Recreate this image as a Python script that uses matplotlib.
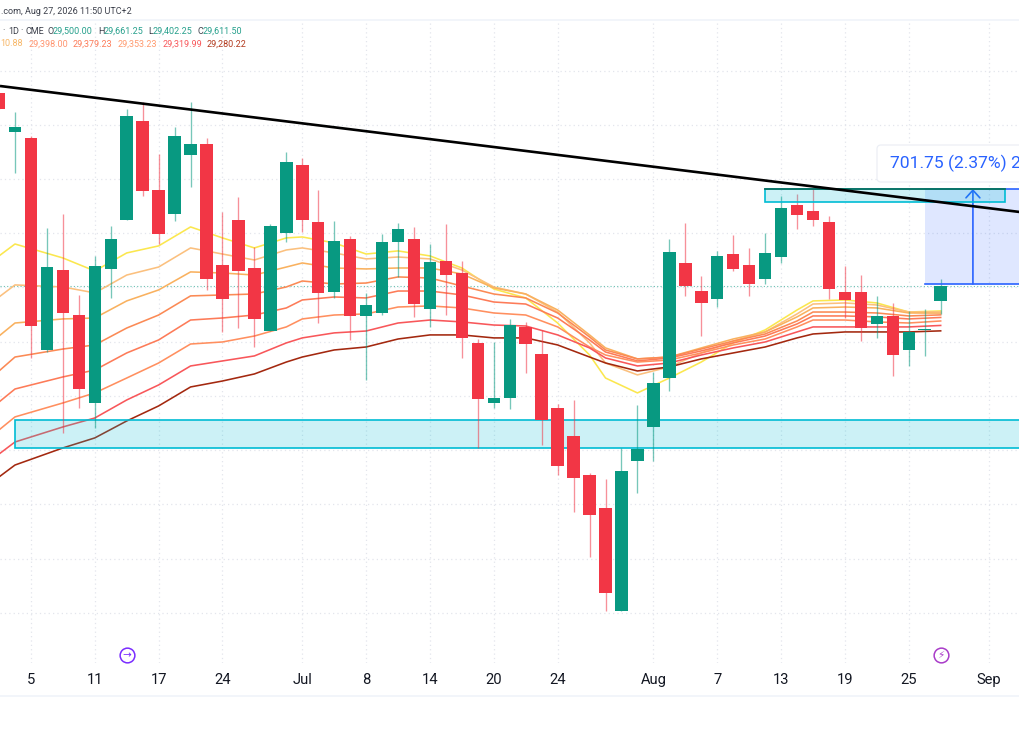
import matplotlib
matplotlib.use("Agg")
import matplotlib.pyplot as plt
from matplotlib.patches import FancyBboxPatch, Rectangle
from matplotlib.transforms import IdentityTransform

plt.rcParams['font.family'] = ['Roboto', 'DejaVu Sans']

W, H = 1020, 741

bar_index = list(range(-2, 58))
opens = [31036,30748,30704,29139,29729,29397,28748,29737,30098,30829,30320,30143,30578,30659,29766,30098,29744,29279,30002,30504,
         30084,29567,29958,29390,29412,29936,29958,29442,29796,29707,29191,28748,28785,29309,29109,28711,28504,28216,27973,27213,
         28320,28571,28932,29781,29574,29515,29847,29766,29663,29825,30209,30165,30084,29567,29567,29331,29390,29139,29287,29500]
highs = [31036,30895,30718,30039,30143,29545,29833,30054,30918,30969,30585,30785,30969,30704,30157,30268,29899,30069,30600,30556,
         30320,30091,29980,29560,29995,30076,30047,29921,30069,29796,29220,29198,29368,29346,29287,28740,28770,28231,28187,28416,
         28733,28977,29958,30076,29685,29870,29988,29892,30002,30276,30290,30342,30128,29759,29692,29538,29486,29427,29442,29661.25]
lows = [30918,30445,29080,29124,28526,28711,28563,29523,30098,30276,29921,30091,30342,29582,29272,29301,29161,29279,29936,30010,
        29338,29523,29213,28918,29397,29678,29383,29309,29397,29080,28416,28711,28704,28969,28438,28216,27943,27611,27213,27213,
        28084,28320,28836,29538,29242,29456,29722,29538,29626,29781,30032,30054,29515,29375,29205,29228,28947,29021,29095,29402.25]
closes = [30918,30785,29316,29752,29412,28851,29759,29958,30866,30312,29995,30718,30659,29663,29515,29722,29368,30054,30526,30098,
          29560,29943,29390,29471,29936,30032,29478,29788,29692,29228,28777,28785,29323,29183,28622,28283,28194,27921,27346,28246,
          28408,28895,29862,29611,29486,29833,29737,29626,29855,30187,30135,30098,29589,29508,29301,29390,29102,29272,29294,29611.5]

ema_index = [-2,-1,2,4,6,8,10,12,14,16,17,19,21,23,25,27,29,31,33,35,36,38,40,42,44,46,48,49,51,53,55,57]
ema1 = [29833,29921,29818,29722,29855,29907,30047,29966,29892,29966,29973,29929,29847,29870,29833,29744,29589,29523,29338,29102,28932,28822,28932,29050,29191,29287,29434,29501,29508,29486,29419,29427]
ema2 = [29530,29619,29604,29560,29692,29751,29892,29847,29803,29877,29892,29855,29811,29825,29811,29729,29604,29552,29419,29191,29043,28955,29014,29117,29205,29272,29405,29478,29486,29471,29419,29420]
ema3 = [29242,29338,29368,29375,29501,29582,29715,29707,29692,29751,29781,29744,29737,29744,29744,29700,29597,29552,29434,29250,29154,29073,29087,29154,29220,29272,29383,29449,29456,29449,29412,29411]
ema4 = [28984,29087,29146,29176,29301,29397,29538,29545,29552,29604,29648,29626,29633,29678,29670,29611,29552,29523,29412,29235,29139,29073,29087,29146,29205,29257,29353,29419,29419,29412,29390,29398]
ema5 = [28755,28851,28940,28991,29117,29213,29360,29375,29397,29449,29508,29530,29523,29574,29574,29545,29493,29478,29375,29213,29124,29058,29080,29132,29191,29242,29331,29390,29390,29383,29368,29379]
ema6 = [28549,28645,28748,28822,28932,29043,29183,29198,29242,29309,29368,29397,29405,29456,29464,29449,29412,29397,29309,29161,29102,29050,29065,29117,29176,29220,29309,29360,29360,29346,29338,29353]
ema7 = [28371,28460,28571,28637,28770,28881,29021,29058,29095,29191,29228,29265,29279,29338,29360,29346,29323,29316,29250,29154,29080,29021,29043,29102,29154,29198,29272,29309,29309,29309,29309,29320]
ema8 = [28202,28290,28416,28490,28615,28726,28866,28910,28962,29050,29087,29139,29161,29220,29250,29250,29228,29228,29176,29087,29043,28984,29014,29073,29117,29161,29228,29257,29272,29272,29272,29280]
ema_series = [ema1, ema2, ema3, ema4, ema5, ema6, ema7, ema8]
ema_colors = ['#fbe74e', '#fbc07e', '#f9b15f', '#fb8a55', '#fd7b58', '#ff8f5f', '#f8575a', '#a3280f']

tick_index = [0, 4, 8, 12, 17, 21, 25, 29, 33, 39, 43, 47, 51, 55, 60]
tick_labels = ['5', '11', '17', '24', 'Jul', '8', '14', '20', '24', 'Aug', '7', '13', '19', '25', 'Sep']
price_grid = [27200, 27600, 28000, 28400, 28800, 29200, 29600, 30000, 30400, 30800, 31200]

last_close = 29611.5
support_zone = (28416, 28622)
resistance_zone = (30230, 30327)
measure_low, measure_high = 29625.5, 30327.25
trend_index = (-1.94, 61.97)
trend_price = (31087, 30157)
event_index = [6, 57]
event_price = 26888

GREEN, RED = '#089981', '#f23645'
CYAN = '#00bcd4'
BLUE = '#2962ff'

fig = plt.figure(figsize=(W / 100, H / 100), dpi=100, facecolor='white')
ax = fig.add_axes([0, (H - 663) / H, 1, (663 - 20) / H])
ax.set_xlim(-1.94, 61.97)
ax.set_ylim(26829, 31574)
for s in ax.spines.values():
    s.set_visible(False)

ax.set_xticks(tick_index)
ax.set_xticklabels(tick_labels, fontsize=10.6, color='#131722')
ax.set_yticks(price_grid)
ax.tick_params(axis='x', length=0, pad=7)
ax.tick_params(axis='y', length=0, labelleft=False)
ax.grid(True, color='#e3e5ec', lw=0.9, linestyle=(0, (1, 2.5)), zorder=0)
ax.set_axisbelow(True)

ax.axhline(last_close, color=GREEN, lw=0.8, alpha=0.6, linestyle=(0, (1, 2)), zorder=1)

for vals, col in zip(ema_series, ema_colors):
    ax.plot(ema_index, vals, color=col, lw=1.15, zorder=2, solid_joinstyle='round')

# support zone
ax.add_patch(Rectangle((-1, support_zone[0]), 70, support_zone[1] - support_zone[0],
                       fc=(0, 188 / 255, 212 / 255, 0.2), ec=CYAN, lw=1.2, zorder=3))

for i, o, h, l, c in zip(bar_index, opens, highs, lows, closes):
    col = GREEN if c >= o else RED
    ax.vlines(i, l, h, color=col, lw=0.95, alpha=0.55, zorder=4)
    ax.bar(i, abs(c - o), bottom=min(o, c), width=0.78, color=col, lw=0, zorder=5)

# measure tool
ax.add_patch(Rectangle((56, measure_low), 20, measure_high - measure_low,
                       fc=(41 / 255, 98 / 255, 1, 0.15), ec='none', zorder=6))
ax.plot([56, 70], [measure_low, measure_low], color=BLUE, lw=1.2, zorder=7)
ax.plot([56, 70], [measure_high, measure_high], color=BLUE, lw=1.2, zorder=7)
ax.annotate('', xy=(59.02, measure_high), xytext=(59.02, measure_low),
            arrowprops=dict(arrowstyle='->,head_length=0.55,head_width=0.5', color=BLUE, lw=1.2,
                            shrinkA=0, shrinkB=0), zorder=7)

# resistance zone
ax.add_patch(Rectangle((46, resistance_zone[0]), 15.03, resistance_zone[1] - resistance_zone[0],
                       fc=(0, 188 / 255, 212 / 255, 0.2), ec=CYAN, lw=1.2, zorder=8))
ax.plot([46, 61.03], [resistance_zone[1], resistance_zone[1]], color='#0b6e5f', lw=1.3, zorder=9)

ax.plot(trend_index, trend_price, color='black', lw=1.9, zorder=10, solid_capstyle='butt')

# event markers
for idx, col, glyph, fs in zip(event_index, ['#7a2cff', '#a93cc9'], ['\u2192', '\u26a1'], [7.5, 7.5]):
    ax.plot([idx], [event_price], 'o', ms=10.6, mfc='white', mec=col, mew=1.1, zorder=11)
    ax.text(idx, event_price, glyph, color=col, fontsize=fs, ha='center', va='center',
            family='DejaVu Sans', zorder=12)

# frame lines
for yy in (20, 696):
    fig.add_artist(plt.Line2D([0, 1], [1 - yy / H, 1 - yy / H], color='#f0f3fa', lw=1.2))


def t(x, y, s, color='#131722', size=6.5, **kw):
    fig.text(x / W, 1 - y / H, s, color=color, fontsize=size, va='center', ha='left', **kw)


DARK, TEAL = '#3b3f4a', '#26a08c'
t(1, 11, '.com, Aug 27, 2026 11:50 UTC+2', DARK)
for x, s, c in [(2, '\u00b7', DARK), (8, '1D', DARK), (20, '\u00b7', DARK), (26, 'CME', DARK),
                (47, 'O', DARK), (53, '29,500.00', TEAL), (98, 'H', DARK), (104, '29,661.25', TEAL),
                (148, 'L', DARK), (153, '29,402.25', TEAL), (197, 'C', DARK), (203, '29,611.50', TEAL)]:
    t(x, 31, s, c)
for x, s, c in [(0, '10.88', '#f7b768'), (29, '29,398.00', '#ff9570'), (73, '29,379.23', '#fd7b58'),
                (118, '29,353.23', '#ff9a6e'), (163, '29,319.99', '#f8575a'), (207, '29,280.22', '#b23a1e')]:
    t(x, 44, s, c)

box = FancyBboxPatch((877, H - 182), 200, 37, boxstyle='round,pad=0,rounding_size=4',
                     transform=IdentityTransform(), fc='white', ec='#eceff5', lw=0.9, zorder=5)
fig.add_artist(box)
fig.text(890 / W, 1 - 163.5 / H, '701.75 (2.37%) 2,807', color=BLUE, fontsize=12.6, va='center', ha='left', zorder=6)

fig.savefig('out.png', dpi=100, facecolor='white')
